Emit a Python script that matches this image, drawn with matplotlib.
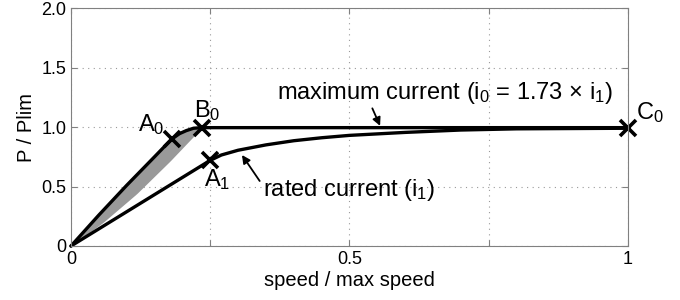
import matplotlib
matplotlib.use('Agg')
import matplotlib.pyplot as plt
import numpy as np

plt.rcParams['font.family'] = ['Liberation Sans', 'DejaVu Sans']
plt.rcParams['mathtext.fontset'] = 'custom'
plt.rcParams['mathtext.rm'] = 'Liberation Sans'
plt.rcParams['mathtext.it'] = 'Liberation Sans'
plt.rcParams['mathtext.default'] = 'regular'

# maximum current curve
max_speed = [0, 0.05, 0.10, 0.15, 0.181, 0.195, 0.207, 0.22, 0.235, 0.3, 0.5, 0.75, 1.0]
max_power = [0, 0.26, 0.51, 0.75, 0.90, 0.945, 0.97, 0.99, 0.995, 0.995, 0.995, 0.995, 0.995]

# rated current curve
rated_speed = [0, 0.25, 0.27, 0.30, 0.35, 0.40, 0.45, 0.50, 0.60, 0.70, 0.80, 1.0]
rated_power = [0, 0.72, 0.765, 0.805, 0.85, 0.885, 0.91, 0.93, 0.955, 0.975, 0.985, 0.99]

# lower edge of the grey area (origin to B0)
shade_speed = [0, 0.058, 0.118, 0.178, 0.235]
shade_lower = [0, 0.20, 0.44, 0.715, 0.995]

# marked points
pt_names = ['A$_0$', 'B$_0$', 'A$_1$', 'C$_0$']
pt_speed = [0.181, 0.235, 0.25, 1.0]
pt_power = [0.90, 0.995, 0.72, 0.995]

fig = plt.figure(figsize=(6.8, 3.0), dpi=100)
ax = fig.add_axes([0.1044, 0.18, 0.819, 0.793])

# shaded area between max-current curve and lower edge
xs = np.linspace(0, shade_speed[-1], 60)
ax.fill_between(xs, np.interp(xs, shade_speed, shade_lower),
                np.interp(xs, max_speed, max_power), color='#999999', lw=0)

ax.plot(max_speed, max_power, color='black', lw=2.4, solid_capstyle='round', clip_on=False)
ax.plot(rated_speed, rated_power, color='black', lw=2.4, solid_capstyle='round', clip_on=False)
ax.plot(pt_speed, pt_power, 'x', color='black', ms=11, mew=2.6, clip_on=False)

offsets = [(-0.036, 0.12), (0.009, 0.14), (0.012, -0.16), (0.04, 0.13)]
for name, sx, sy, (dx, dy) in zip(pt_names, pt_speed, pt_power, offsets):
    ax.text(sx + dx, sy + dy, name, fontsize=17, ha='center', va='center')

ax.annotate('maximum current (i$_0$ = 1.73 × i$_1$)', xy=(0.555, 1.01), xytext=(0.37, 1.29),
            fontsize=17, va='center', ha='left',
            arrowprops=dict(arrowstyle='-|>', color='black', lw=1.3, mutation_scale=12,
                            shrinkA=0, shrinkB=0, relpos=(0.28, 0.0)))
ax.annotate('rated current (i$_1$)', xy=(0.307, 0.765), xytext=(0.345, 0.47),
            fontsize=17, va='center', ha='left',
            arrowprops=dict(arrowstyle='-|>', color='black', lw=1.3, mutation_scale=12,
                            shrinkA=0, shrinkB=0, relpos=(-0.02, 0.85)))

ax.set_xlim(0, 1)
ax.set_ylim(0, 2)
ax.set_xticks([0, 0.25, 0.5, 0.75, 1])
ax.set_xticklabels(['0', '', '0.5', '', '1'])
ax.set_yticks([0, 0.5, 1.0, 1.5, 2.0])
ax.set_yticklabels(['0', '0.5', '1.0', '1.5', '2.0'])
ax.tick_params(direction='in', top=True, right=True, labelsize=13, color='#808080', length=4)
ax.grid(True, linestyle=(0, (1, 4)), color='#999999', lw=0.8)
for sp in ax.spines.values():
    sp.set_color('#808080')

ax.set_xlabel('speed / max speed', fontsize=14.5, labelpad=2)
ax.set_ylabel('P / Plim', fontsize=14.5)

fig.savefig('out.png', dpi=100)
